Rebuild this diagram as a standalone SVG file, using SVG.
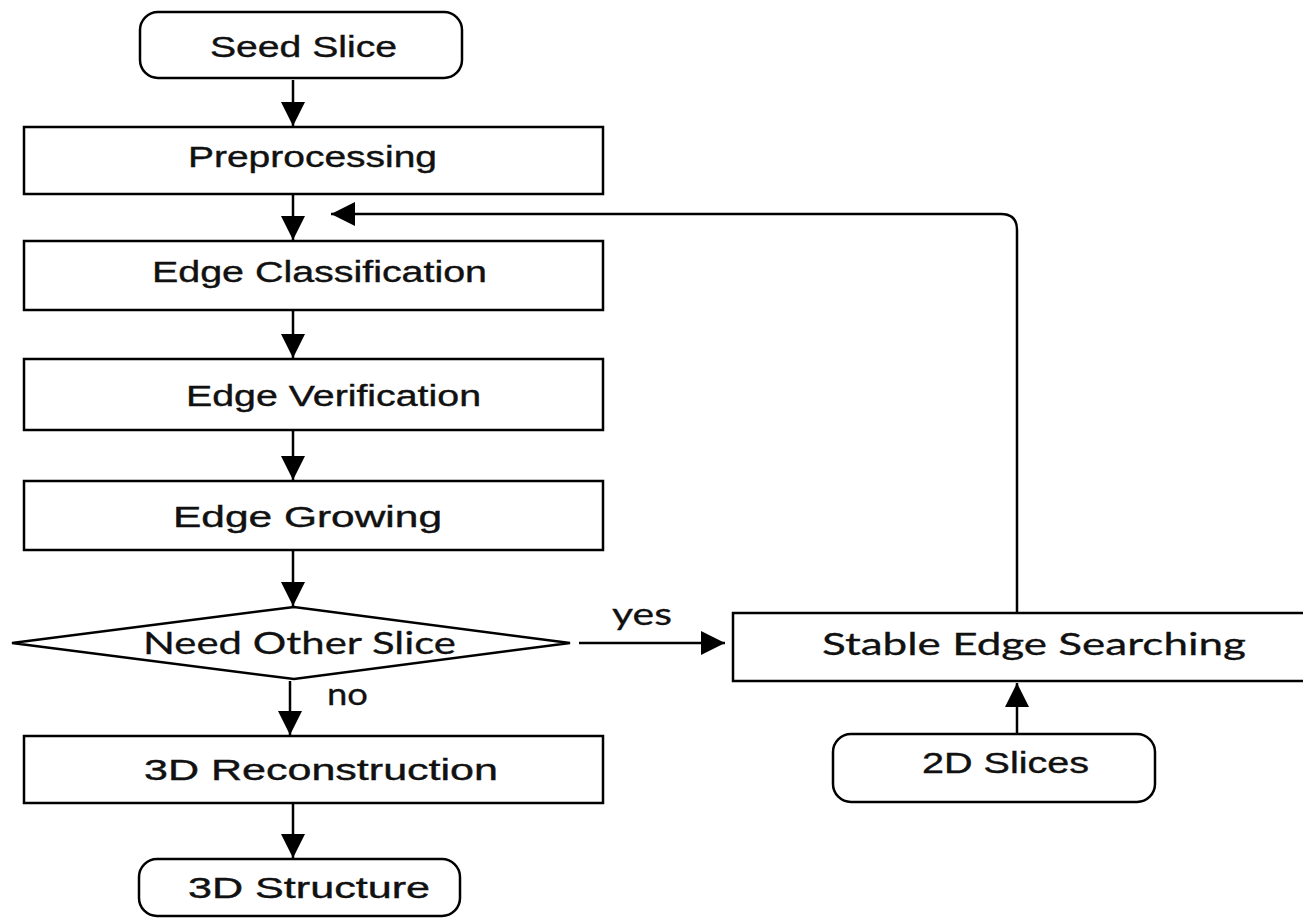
<svg xmlns="http://www.w3.org/2000/svg" width="1303" height="922" viewBox="0 0 1303 922">
<style>
.box{fill:#fff;stroke:#000;stroke-width:2.5}
.t{font-family:"Liberation Sans",Arial,sans-serif;font-size:30px;fill:#111;stroke:#111;stroke-width:0.4}
.c{font-family:Lato,"Open Sans",sans-serif;font-size:31px;fill:#111;stroke:#111;stroke-width:0.3}
.l{fill:none;stroke:#000;stroke-width:2.5}
</style>
<defs>
<marker id="ah" viewBox="0 0 24 24" refX="24" refY="12" markerWidth="24" markerHeight="24" markerUnits="userSpaceOnUse" orient="auto">
<path d="M0,0 L24,12 L0,24 Z" fill="#000"/>
</marker>
</defs>
<rect width="1303" height="922" fill="#fff"/>
<g id="seed"><rect class="box" x="140" y="12" width="322" height="66" rx="18"/><text class="t" x="210" y="57" textLength="187" lengthAdjust="spacingAndGlyphs">Seed Slice</text></g>
<g id="pre"><rect class="box" x="24" y="127" width="579" height="67"/><text class="t" x="188" y="167" textLength="249" lengthAdjust="spacingAndGlyphs">Preprocessing</text></g>
<g id="cls"><rect class="box" x="24" y="241" width="579" height="69"/><text class="t" x="152" y="282" textLength="335" lengthAdjust="spacingAndGlyphs">Edge Classification</text></g>
<g id="ver"><rect class="box" x="24" y="359" width="579" height="71"/><text class="t" x="186" y="406" textLength="295" lengthAdjust="spacingAndGlyphs">Edge Verification</text></g>
<g id="grow"><rect class="box" x="24" y="481" width="579" height="69"/><text class="t" x="173" y="527" textLength="269" lengthAdjust="spacingAndGlyphs">Edge Growing</text></g>
<g id="need"><polygon class="box" points="12,643 294,607 570,643 294,679"/><text class="c" x="143" y="654" textLength="313" lengthAdjust="spacingAndGlyphs">Need Other Slice</text></g>
<g id="recon"><rect class="box" x="24" y="736" width="579" height="67"/><text class="t" x="144" y="780" textLength="354" lengthAdjust="spacingAndGlyphs">3D Reconstruction</text></g>
<g id="struct"><rect class="box" x="139" y="859" width="321" height="57" rx="18"/><text class="t" x="188" y="898" textLength="242" lengthAdjust="spacingAndGlyphs">3D Structure</text></g>
<g id="stable"><rect class="box" x="733" y="613" width="580" height="68"/><text class="c" x="822" y="655" textLength="424" lengthAdjust="spacingAndGlyphs">Stable Edge Searching</text></g>
<g id="slices2d"><rect class="box" x="833" y="734" width="322" height="68" rx="18"/><text class="t" x="922" y="773" textLength="167" lengthAdjust="spacingAndGlyphs">2D Slices</text></g>
<g id="connectors">
<line class="l" x1="293" y1="80" x2="293" y2="126" marker-end="url(#ah)"/>
<line class="l" x1="293" y1="195" x2="293" y2="240" marker-end="url(#ah)"/>
<line class="l" x1="293" y1="311" x2="293" y2="358" marker-end="url(#ah)"/>
<line class="l" x1="293" y1="431" x2="293" y2="480" marker-end="url(#ah)"/>
<line class="l" x1="293" y1="551" x2="293" y2="606" marker-end="url(#ah)"/>
<line class="l" x1="290" y1="681" x2="290" y2="735" marker-end="url(#ah)"/>
<line class="l" x1="293" y1="804" x2="293" y2="858" marker-end="url(#ah)"/>
<line class="l" x1="579" y1="643" x2="725" y2="643" marker-end="url(#ah)"/>
<line class="l" x1="1017" y1="733" x2="1017" y2="683" marker-end="url(#ah)"/>
<path class="l" d="M1017,612 L1017,230 Q1017,214 1001,214 L331,214" marker-end="url(#ah)"/>
<text class="c" x="612" y="625" textLength="60" lengthAdjust="spacingAndGlyphs">yes</text>
<text class="c" x="327" y="705" textLength="41" lengthAdjust="spacingAndGlyphs">no</text>
</g>
</svg>
